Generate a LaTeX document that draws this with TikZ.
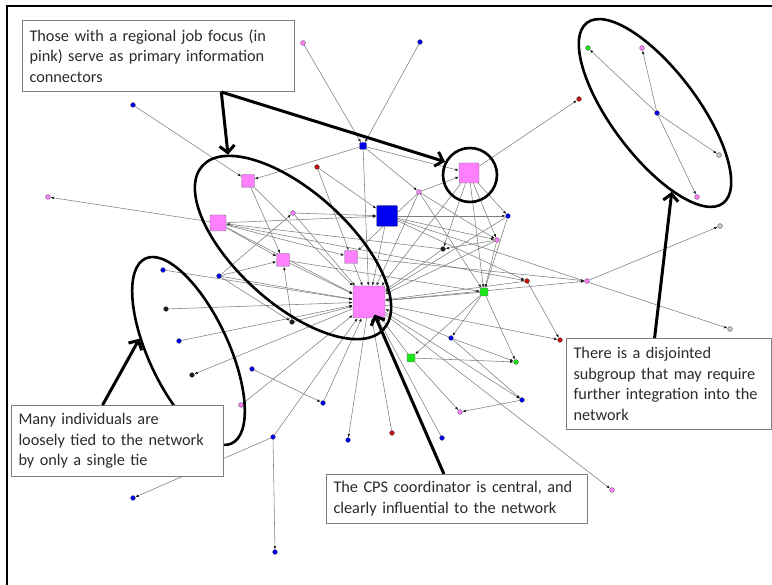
\documentclass[tikz,border=0pt]{standalone}
\usepackage{fontspec}
\setmainfont{Carlito}
\usepackage{tikz}
\usetikzlibrary{arrows.meta,positioning,shapes.geometric,calc}
\definecolor{ink}{HTML}{2B2B2B}
\definecolor{tiegray}{HTML}{7E7E7E}
\definecolor{boxgray}{HTML}{808080}
\definecolor{regionpink}{HTML}{FF80FF}
\definecolor{netblue}{HTML}{0000F0}
\definecolor{netgreen}{HTML}{19E619}
\definecolor{netred}{HTML}{C41010}
\definecolor{netblack}{HTML}{1A1A1A}
\definecolor{netgray}{HTML}{C8C8C8}
\pgfdeclarelayer{ties}
\pgfsetlayers{ties,main}
\newcommand{\notefont}{\fontsize{16.3pt}{20.7pt}\selectfont}
\tikzset{
  actor/.style={circle,draw=black!70,line width=0.3pt,inner sep=0pt,
                minimum size=4.8pt},
  pinkdot/.style={actor,fill=regionpink},
  bluedot/.style={actor,fill=netblue},
  reddot/.style={actor,fill=netred},
  darkdot/.style={actor,fill=netblack},
  greendot/.style={actor,fill=netgreen},
  graydot/.style={actor,fill=netgray},
  member/.style={rectangle,rounded corners=1pt,draw=black!55,line width=0.4pt,
                 inner sep=0pt},
  tie/.style={draw=tiegray,line width=0.55pt,
              -{Latex[length=3.4pt,width=2.6pt,color=netblack]}},
  ring/.style={draw=black,line width=2.6pt,inner sep=0pt},
  callout/.style={draw=black,line width=3pt,
                  -{Straight Barb[length=7pt,width=15pt]}},
  note/.style={draw=boxgray,fill=white,line width=1pt,anchor=north west,
               align=left,inner xsep=7pt,inner ysep=0pt,text=ink,font=\notefont}
}

\begin{document}
\begin{tikzpicture}[x=1pt,y=-1pt]
    \path[use as bounding box] (0,0) rectangle (772,585);
    \draw[line width=2pt] (7,585) -- (7,6) -- (772,6);
    % members with a tie to many others
    \node[member,fill=regionpink,minimum size=32pt] (cps) at (369,302) {};
    \node[member,fill=regionpink,minimum size=20pt] (hub) at (469,173) {};
    \node[member,fill=netblue,minimum size=21pt] (bigblue) at (387,216) {};
    \node[member,fill=regionpink,minimum size=13pt] (pa) at (248,181) {};
    \node[member,fill=regionpink,minimum size=16pt] (pb) at (218,223) {};
    \node[member,fill=regionpink,minimum size=13pt] (pc) at (283,260) {};
    \node[member,fill=regionpink,minimum size=13pt] (pd) at (351,257) {};
    \node[member,fill=netblue,minimum size=7pt] (bsq) at (363,146) {};
    \node[member,fill=netgreen,minimum size=8pt] (ga) at (484,292) {};
    \node[member,fill=netgreen,minimum size=8pt] (gb) at (411,358) {};
    % everyone else
    \foreach \n/\x/\y in {k1/303/43,k2/48/197,k3/293/213,k4/241/405,k5/419/192,
        k6/497/240,k7/587/281,k8/460/412,k9/612/490,s2/642/48,s5/697/197}
      \node[pinkdot] (\n) at (\x,\y) {};
    \foreach \n/\x/\y in {b1/133/105,b2/163/270,b3/219/276,b4/179/341,
        b5/252/369,b6/323/403,b7/273/437,b8/348/440,b9/133/498,b10/275/552,
        b11/420/42,b12/508/216,b13/451/338,b14/522/400,b15/442/438,s3/657/113}
      \node[bluedot] (\n) at (\x,\y) {};
    \foreach \n/\x/\y in {r1/317/167,r2/579/99,r3/527/281,r4/560/340,r5/392/433}
      \node[reddot] (\n) at (\x,\y) {};
    \foreach \n/\x/\y in {d1/166/309,d2/192/375,d3/292/322,d4/443/249}
      \node[darkdot] (\n) at (\x,\y) {};
    \node[greendot] (g1) at (516,362) {};
    \node[greendot] (s1) at (588,48) {};
    \node[graydot] (w1) at (720,226) {};
    \node[graydot] (w2) at (730,329) {};
    \node[graydot] (s4) at (719,155) {};
    % ties
    \begin{pgfonlayer}{ties}
    \foreach \a/\b in {k1/bsq,b11/bsq,b1/pa,pb/k2,b2/cps,b3/cps,b3/pc,b3/k3,
        b3/d3,d1/cps,b4/cps,cps/d2,k4/cps,b7/cps,b7/b9,b7/b10,b5/b6,b6/cps,
        cps/b8,r5/cps,b15/cps,d3/pc,d3/cps,hub/r2,k7/w1,bigblue/w2,cps/k9,
        cps/r4,r3/r4,b14/k8,gb/k8,s3/s1,s3/s2,s3/s4,s3/s5}
      \draw[tie] (\a) -- (\b);
    \foreach \a/\b in {pa/cps,pa/pc,bsq/pa,pb/bigblue,pb/pc,pb/pd,pb/cps,
        k3/bigblue,k3/cps,pc/cps,pd/cps,r1/pd,r1/bigblue,bsq/cps,bsq/hub,
        bsq/k5,bigblue/cps,bigblue/b12,bigblue/k6,bigblue/r3,k5/hub,k5/cps,
        k5/pd,k5/k6,k5/ga,hub/cps,hub/d4,hub/b12,hub/k6,hub/ga,b12/cps,
        b12/ga,k6/cps,k6/ga,k6/d4,d4/cps,d4/pb,ga/cps,ga/b13,ga/gb,ga/g1,
        r3/cps,pd/k7,cps/k7,gb/cps,gb/g1,b13/cps,b13/g1,b13/b14,cps/b14,
        pc/ga,pb/r3}
      \draw[tie] (\a) -- (\b);
    \end{pgfonlayer}
    % rings round the groups
    \node[ring,ellipse,minimum width=244pt,minimum height=112pt,rotate=-42]
      (pinkring) at (293,247.5) {};
    \node[ring,circle,minimum size=54pt] (hubring) at (470,175) {};
    \node[ring,ellipse,minimum width=204pt,minimum height=80pt,rotate=-65]
      (loosering) at (188.5,351) {};
    \node[ring,ellipse,minimum width=226pt,minimum height=86pt,rotate=-53]
      (subring) at (655,113) {};
    % notes
    \node[note,text width=258pt,minimum height=71pt] (topnote) at (22,20)
      {Those with a regional job focus (in\\pink) serve as primary information\\connectors};
    \node[note,text width=198pt,minimum height=71pt] (loosenote) at (11,405)
      {Many individuals are\\loosely tied to the network\\by only a single tie};
    \node[note,text width=191pt,minimum height=91pt] (subnote) at (566,338)
      {There is a disjointed\\subgroup that may require\\further integration into the\\network};
    \node[note,text width=247pt,minimum height=49pt] (cpsnote) at (326,474)
      {The CPS coordinator is central, and\\clearly influential to the network};
    \coordinate (fork) at ($(topnote.south west)!.73!(topnote.south east)$);
    \draw[callout] (fork) -- (pinkring.167);
    \draw[callout] (fork) -- (hubring.152);
    \draw[callout] ($(loosenote.north west)!.43!(loosenote.north east)$)
      -- (loosering.231);
    \draw[callout] ($(subnote.north west)!.43!(subnote.north east)$)
      -- (subring.335);
    \draw[callout,shorten >=-4pt] ($(cpsnote.north west)!.45!(cpsnote.north east)$)
      -- (cps);
\end{tikzpicture}
\end{document}
